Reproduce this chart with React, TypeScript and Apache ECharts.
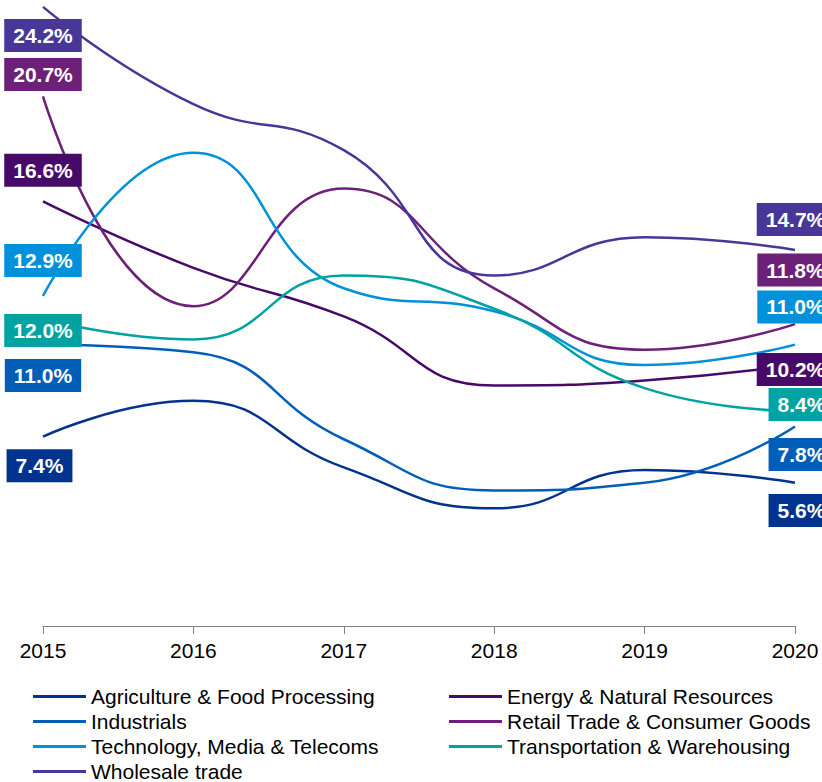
import React, { useEffect, useRef } from 'react';
import * as echarts from 'echarts';

const years = ['2015', '2016', '2017', '2018', '2019', '2020'];

const seriesNames = [
  'Agriculture & Food Processing',
  'Energy & Natural Resources',
  'Industrials',
  'Retail Trade & Consumer Goods',
  'Technology, Media & Telecoms',
  'Transportation & Warehousing',
  'Wholesale trade',
];

const agriculture = [7.4, 8.8, 6.2, 4.6, 6.1, 5.6];
const energy = [16.6, 14.0, 12.1, 9.4, 9.6, 10.2];
const industrials = [11.0, 10.7, 7.3, 5.3, 5.6, 7.8];
const retail = [20.7, 12.5, 17.1, 13.2, 10.8, 11.8];
const tech = [12.9, 18.5, 13.2, 12.3, 10.2, 11.0];
const transport = [12.0, 11.2, 13.7, 12.4, 9.3, 8.4];
const wholesale = [24.2, 20.4, 18.6, 13.7, 15.2, 14.7];

const seriesValues = [agriculture, energy, industrials, retail, tech, transport, wholesale];

// styling only
const colors = ['#00338D', '#470A68', '#005EB8', '#6D2077', '#0091DA', '#00A3A1', '#483698'];
const startLabelOffsets = [
  [-3.5, 29], [0, -31], [0, 31], [0, -22], [0, -35.5], [0, 11.5], [0, 28.5],
];
const endLabelOffsets = [
  [6.5, 27.7], [0.5, 4.5], [6.5, 28], [0.5, -54], [0.5, -37.6], [6.5, -6.5], [0.5, -30.5],
];

const legendLeft = [seriesNames[0], seriesNames[2], seriesNames[4], seriesNames[6]];
const legendRight = [seriesNames[1], seriesNames[3], seriesNames[5]];

const FONT = "'Liberation Sans', Arial, sans-serif";
const LABEL_FONT = "'Liberation Sans Narrow', 'Arial Narrow', 'Liberation Sans', Arial, sans-serif";

export default function App() {
  const ref = useRef<HTMLDivElement>(null);
  useEffect(() => {
    if (!ref.current) return;
    const chart = echarts.init(ref.current, null, { renderer: 'svg' });
    const last = years.length - 1;
    const series = seriesNames.map((name, si) => ({
      name,
      type: 'line',
      smooth: true,
      clip: false,
      symbol: 'circle',
      symbolSize: 0,
      showSymbol: true,
      color: colors[si],
      lineStyle: { color: colors[si], width: 2.5 },
      itemStyle: { color: colors[si] },
      emphasis: { disabled: true },
      label: { show: false },
      data: seriesValues[si].map((v, i) => {
        if (i === 0 || i === last) {
          return {
            value: v,
            label: {
              show: true,
              position: 'inside',
              offset: i === 0 ? startLabelOffsets[si] : endLabelOffsets[si],
              formatter: (p: any) => Number(p.value).toFixed(1) + '%',
              backgroundColor: colors[si],
              color: '#fff',
              fontFamily: LABEL_FONT,
              fontWeight: 'bold',
              fontSize: 21,
              lineHeight: 21,
              padding: [6, 9, 6, 9],
              align: 'center',
              verticalAlign: 'middle',
            },
          };
        }
        return v;
      }),
    }));

    const legendCommon = {
      orient: 'vertical',
      icon: 'rect',
      itemWidth: 53,
      itemHeight: 3,
      itemGap: 4,
      padding: 0,
      height: 120,
      textStyle: { fontFamily: FONT, fontSize: 21, lineHeight: 21, color: '#000' },
      selectedMode: false,
    };

    chart.setOption({
      animation: false,
      grid: { left: 43, right: 27, top: 12, bottom: 156, containLabel: false },
      xAxis: {
        type: 'category',
        data: years,
        boundaryGap: false,
        axisLine: { show: true, lineStyle: { color: '#808080', width: 1 } },
        axisTick: { show: true, length: 8, lineStyle: { color: '#808080' } },
        axisLabel: { fontFamily: FONT, fontSize: 21, color: '#000', margin: 14 },
        splitLine: { show: false },
      },
      yAxis: {
        type: 'value',
        min: 0,
        max: 24,
        show: false,
        splitLine: { show: false },
      },
      legend: [
        { ...legendCommon, left: 33, top: 686, data: legendLeft },
        { ...legendCommon, left: 449, top: 686, data: legendRight },
      ],
      series,
    });
    return () => chart.dispose();
  }, []);
  return (
    <div
      ref={ref}
      style={{ position: 'fixed', left: 0, top: 0, width: 822, height: 782, background: '#fff' }}
    />
  );
}
